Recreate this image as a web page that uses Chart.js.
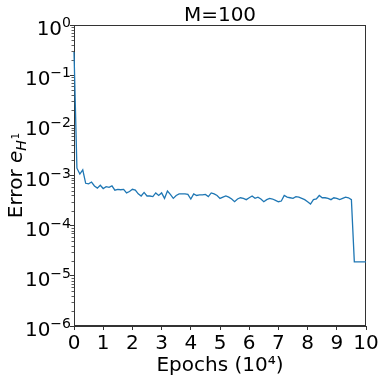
<!DOCTYPE html>
<html><head><meta charset="utf-8">
<script src="https://cdn.jsdelivr.net/npm/chart.js@4.4.1/dist/chart.umd.min.js"></script>
<style>html,body{margin:0;padding:0;background:#fff;overflow:hidden}canvas{display:block}</style>
</head><body>
<canvas id="c" width="381" height="382"></canvas>
<script>
const titleText = 'M=100';
const xTitle = 'Epochs (10⁴)';
const yTitleMain = 'Error ';
const yTitleVar = 'e';
const yTitleSub = 'H';
const yTitleSup = '1';
const xTicks = [0,1,2,3,4,5,6,7,8,9,10];
const yTicks = [1e-6,1e-5,1e-4,1e-3,1e-2,1e-1,1];
const yTickBase = '10';
const yTickExps = ['−6','−5','−4','−3','−2','−1','0'];
const epochs = [0,0.1,0.2,0.3,0.4,0.5,0.6,0.7,0.8,0.9,
1,1.1,1.2,1.3,1.4,1.5,1.6,1.7,1.8,1.9,
2,2.1,2.2,2.3,2.4,2.5,2.6,2.7,2.8,2.9,
3,3.1,3.2,3.3,3.4,3.5,3.6,3.7,3.8,3.9,
4,4.1,4.2,4.3,4.4,4.5,4.6,4.7,4.8,4.9,
5,5.1,5.2,5.3,5.4,5.5,5.6,5.7,5.8,5.9,
6,6.1,6.2,6.3,6.4,6.5,6.6,6.7,6.8,6.9,
7,7.1,7.2,7.3,7.4,7.5,7.6,7.7,7.8,7.9,
8,8.1,8.2,8.3,8.4,8.5,8.6,8.7,8.8,8.9,
9,9.1,9.2,9.3,9.4,9.5,9.6,9.7,9.8,9.9,10];
const errors = [0.29,1.4e-3,1.07e-3,1.3e-3,7.0e-4,6.8e-4,7.4e-4,6.2e-4,5.6e-4,6.4e-4,
5.5e-4,6.0e-4,5.8e-4,6.2e-4,5.1e-4,5.3e-4,5.2e-4,5.3e-4,4.5e-4,4.8e-4,
5.3e-4,5.1e-4,4.3e-4,3.9e-4,4.6e-4,3.9e-4,3.9e-4,3.8e-4,4.5e-4,4.0e-4,
4.5e-4,3.5e-4,4.9e-4,4.2e-4,3.5e-4,4.0e-4,4.3e-4,4.3e-4,4.3e-4,4.2e-4,
3.4e-4,4.3e-4,4.0e-4,4.1e-4,4.1e-4,4.2e-4,3.8e-4,4.5e-4,4.3e-4,4.0e-4,
3.5e-4,3.7e-4,3.9e-4,3.7e-4,3.4e-4,3.0e-4,3.4e-4,3.6e-4,3.5e-4,3.3e-4,
3.6e-4,3.9e-4,3.5e-4,3.7e-4,3.4e-4,3.0e-4,3.3e-4,3.5e-4,3.4e-4,3.2e-4,
3.0e-4,3.1e-4,4.0e-4,3.7e-4,3.6e-4,3.5e-4,3.8e-4,3.7e-4,3.5e-4,3.3e-4,
3.0e-4,2.7e-4,3.3e-4,3.4e-4,4.0e-4,3.6e-4,3.6e-4,3.5e-4,3.3e-4,3.6e-4,
3.5e-4,3.3e-4,3.5e-4,3.7e-4,3.6e-4,3.3e-4,1.9e-5,1.9e-5,1.9e-5,1.9e-5,1.9e-5];

const FONT = "'DejaVu Sans'";
const AX = '#333';

const decor = {
  id: 'decor',
  beforeDatasetsDraw(chart) {
    const ctx = chart.ctx, a = chart.chartArea, ys = chart.scales.y;
    ctx.save();
    ctx.strokeStyle = AX; ctx.lineWidth = 1;
    ctx.strokeRect(Math.round(a.left)+0.5, Math.round(a.top)+0.5, Math.round(a.right-a.left)-1, Math.round(a.bottom-a.top)-1);
    ctx.lineWidth = 0.8;
    for (let n = -6; n < 0; n++) {
      for (let k = 2; k <= 9; k++) {
        const y = Math.round(ys.getPixelForValue(k*Math.pow(10,n))) + 0.5;
        ctx.beginPath(); ctx.moveTo(a.left-2.5, y); ctx.lineTo(a.left, y); ctx.stroke();
      }
    }
    ctx.restore();
  },
  afterDraw(chart) {
    const ctx = chart.ctx, a = chart.chartArea, ys = chart.scales.y;
    ctx.save();
    ctx.fillStyle = '#000';
    ctx.textBaseline = 'alphabetic';
    // y tick labels: base + superscript exponent
    const fb = '20px ' + FONT, fs = '14px ' + FONT;
    yTicks.forEach((v, i) => {
      const y = ys.getPixelForValue(v);
      ctx.font = fs; const we = ctx.measureText(yTickExps[i]).width;
      ctx.textAlign = 'right';
      ctx.fillText(yTickExps[i], 71, y + 2);
      ctx.font = fb;
      ctx.fillText(yTickBase, 71 - we, y + 10);
    });
    // title
    ctx.font = '20px ' + FONT; ctx.textAlign = 'center';
    ctx.fillText(titleText, (a.left+a.right)/2, 21);
    ctx.fillText(xTitle, (a.left+a.right)/2, 371);
    // y title
    ctx.translate(22, (a.top+a.bottom)/2);
    ctx.rotate(-Math.PI/2);
    ctx.textAlign = 'left';
    const f1 = '20px ' + FONT, f2 = 'italic 20px ' + FONT, f3 = 'italic 14px ' + FONT, f4 = '10px ' + FONT;
    ctx.font = f1; const w1 = ctx.measureText(yTitleMain).width;
    ctx.font = f2; const w2 = ctx.measureText(yTitleVar).width;
    ctx.font = f3; const w3 = ctx.measureText(yTitleSub).width;
    ctx.font = f4; const w4 = ctx.measureText(yTitleSup).width;
    let x = -(w1+w2+w3+w4+1)/2;
    ctx.font = f1; ctx.fillText(yTitleMain, x, 0); x += w1;
    ctx.font = f2; ctx.fillText(yTitleVar, x, 0); x += w2;
    ctx.font = f3; ctx.fillText(yTitleSub, x, 4); x += w3 + 1;
    ctx.font = f4; ctx.fillText(yTitleSup, x, -3);
    ctx.restore();
  }
};

new Chart(document.getElementById('c'), {
  type: 'line',
  data: {
    datasets: [{
      data: epochs.map((e, i) => ({x: e, y: errors[i]})),
      borderColor: '#1f77b4',
      borderWidth: 1.3,
      pointRadius: 0,
      tension: 0,
      fill: false,
      clip: 3
    }]
  },
  options: {
    responsive: false,
    devicePixelRatio: 1,
    animation: false,
    layout: {padding: {left: 0, right: 15, top: 25, bottom: 0}},
    plugins: {legend: {display: false}, tooltip: {enabled: false}, title: {display: false}},
    scales: {
      x: {
        type: 'linear', min: 0, max: 10,
        afterBuildTicks: s => { s.ticks = xTicks.map(v => ({value: v})); },
        ticks: {color: '#000', font: {family: FONT, size: 20}, padding: 2, maxRotation: 0, autoSkip: false,
          callback: v => String(v)},
        grid: {drawOnChartArea: false, tickLength: 4, tickColor: AX, color: AX},
        border: {color: AX, width: 1},
        afterFit: s => { s.height = 56; }
      },
      y: {
        type: 'logarithmic', min: 1e-6, max: 1,
        afterBuildTicks: s => { s.ticks = yTicks.map(v => ({value: v})); },
        ticks: {display: false},
        grid: {drawOnChartArea: false, tickLength: 4, tickColor: AX, color: AX},
        border: {color: AX, width: 1},
        afterFit: s => { s.width = 74; }
      }
    }
  },
  plugins: [decor]
});
</script>
</body></html>
